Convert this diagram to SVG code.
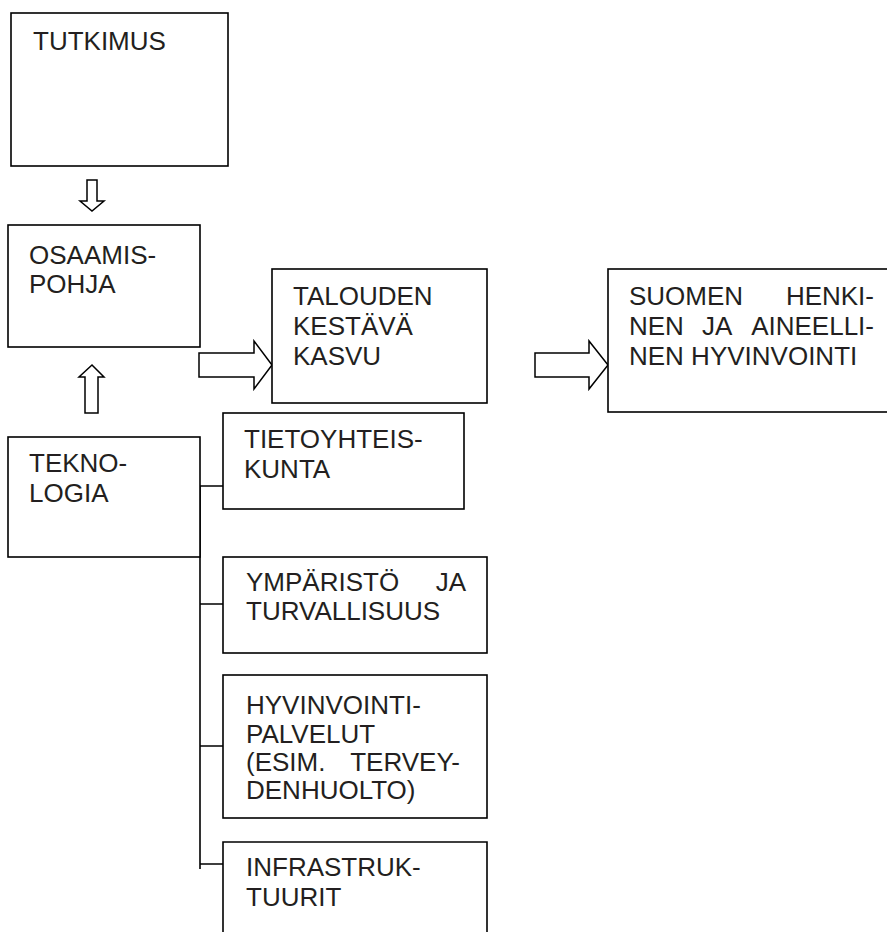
<svg xmlns="http://www.w3.org/2000/svg" width="887" height="932" viewBox="0 0 887 932">
  <style>
    .box { fill: #ffffff; stroke: #000000; stroke-width: 1.6; }
    .arrow { fill: #ffffff; stroke: #000000; stroke-width: 1.5; stroke-linejoin: miter; }
    .link { fill: none; stroke: #000000; stroke-width: 1.6; }
    text { font-family: "Liberation Sans", Arial, sans-serif; font-size: 26px; fill: #231f20; }
    .end { text-anchor: end; }
  </style>
  <rect width="887" height="932" fill="#ffffff"/>

  <!-- connectors -->
  <g id="connectors">
    <!-- block arrows -->
    <polygon class="arrow" points="87,180 97,180 97,201 104,201 92,211 80,201 87,201"/>
    <polygon class="arrow" points="85,413 98,413 98,377 104,377 92,365 79,377 85,377"/>
    <polygon class="arrow" points="199,353 254,353 254,341 272,365 254,389 254,377 199,377"/>
    <polygon class="arrow" points="535,353 589,353 589,341 608,365 589,389 589,377 535,377"/>
    <!-- technology branches -->
    <path class="link" d="M200,486 V869 M200,486 H223 M200,604 H223 M200,746 H223 M200,864 H223"/>
  </g>

  <g id="tutkimus">
    <rect class="box" x="11" y="13" width="217" height="153"/>
    <text x="33" y="50">TUTKIMUS</text>
  </g>

  <g id="osaamispohja">
    <rect class="box" x="8" y="225" width="192" height="122"/>
    <text x="29" y="264">OSAAMIS-</text>
    <text x="29" y="293">POHJA</text>
  </g>

  <g id="teknologia">
    <rect class="box" x="8" y="437" width="192" height="120"/>
    <text x="29" y="472">TEKNO-</text>
    <text x="29" y="502">LOGIA</text>
  </g>

  <g id="talouden-kasvu">
    <rect class="box" x="272" y="269" width="215" height="134"/>
    <text x="293" y="305">TALOUDEN</text>
    <text x="293" y="335">KESTÄVÄ</text>
    <text x="293" y="365">KASVU</text>
  </g>

  <g id="hyvinvointi">
    <rect class="box" x="608" y="269" width="290" height="143"/>
    <text x="629" y="305">SUOMEN</text>
    <text class="end" x="874" y="305">HENKI-</text>
    <text x="629" y="335">NEN</text>
    <text x="702" y="335">JA</text>
    <text class="end" x="874" y="335">AINEELLI-</text>
    <text x="629" y="365">NEN HYVINVOINTI</text>
  </g>

  <g id="tietoyhteiskunta">
    <rect class="box" x="223" y="413" width="241" height="96"/>
    <text x="244" y="448">TIETOYHTEIS-</text>
    <text x="244" y="478">KUNTA</text>
  </g>

  <g id="ymparisto">
    <rect class="box" x="223" y="557" width="264" height="96"/>
    <text x="246" y="591">YMPÄRISTÖ</text>
    <text class="end" x="466" y="591">JA</text>
    <text x="246" y="620">TURVALLISUUS</text>
  </g>

  <g id="hyvinvointipalvelut">
    <rect class="box" x="223" y="675" width="264" height="143"/>
    <text x="246" y="714">HYVINVOINTI-</text>
    <text x="246" y="743">PALVELUT</text>
    <text x="246" y="771">(ESIM.</text>
    <text class="end" x="460" y="771">TERVEY-</text>
    <text x="246" y="799">DENHUOLTO)</text>
  </g>

  <g id="infrastruktuurit">
    <path class="box" d="M223,940 V842 H487 V940"/>
    <text x="246" y="876">INFRASTRUK-</text>
    <text x="246" y="906">TUURIT</text>
  </g>
</svg>
